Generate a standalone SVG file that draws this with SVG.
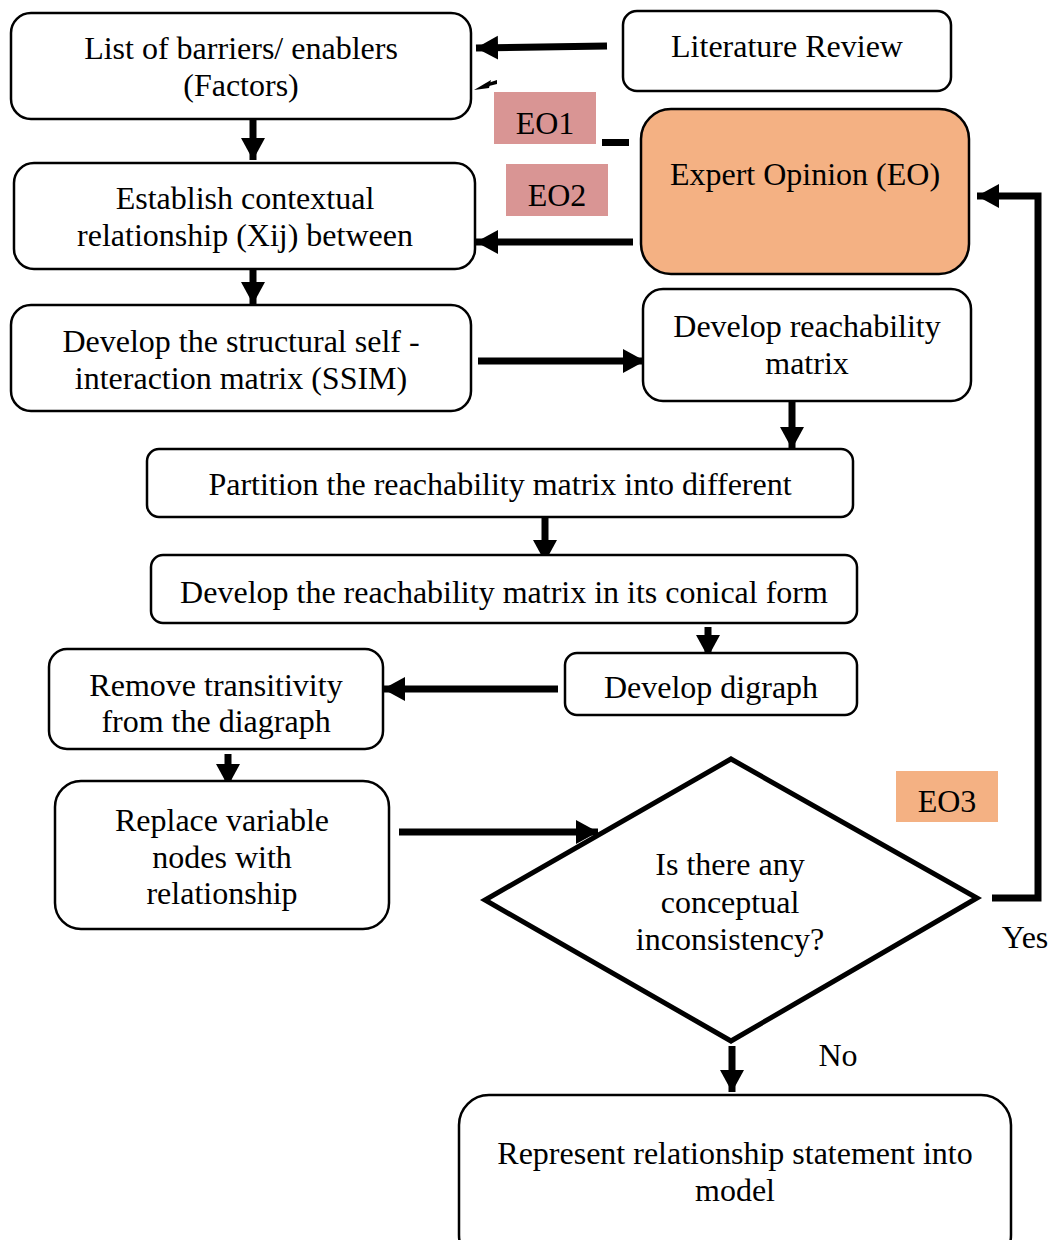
<svg xmlns="http://www.w3.org/2000/svg" width="1058" height="1240" viewBox="0 0 1058 1240">
<style>
.box{fill:#fff;stroke:#000;stroke-width:2.5}
.t{font-family:"Liberation Serif","Times New Roman",serif;font-size:32px;fill:#000;text-anchor:middle}
.c{fill:none;stroke:#000;stroke-width:7}
.eo{fill:#d99594}
.or{fill:#f4b183}
</style>
<defs>
<marker id="ah" markerUnits="userSpaceOnUse" markerWidth="24" markerHeight="26" refX="22" refY="13" orient="auto">
<path d="M0,1 L22,13 L0,25 z" fill="#000"/>
</marker>
</defs>
<rect width="1058" height="1240" fill="#fff"/>
<g id="connectors">
<line class="c" x1="607" y1="46" x2="476" y2="48" marker-end="url(#ah)"/>
<path d="M474,90 L491,80 L489,88 z" fill="#000"/>
<path d="M488,83 L497,80 L497,84 L489,86 z" fill="#000"/>
<rect x="602" y="139" width="27" height="7" fill="#000"/>
<line class="c" x1="633" y1="242" x2="476" y2="242" marker-end="url(#ah)"/>
<line class="c" x1="253" y1="112" x2="253" y2="160" marker-end="url(#ah)"/>
<line class="c" x1="253" y1="269" x2="253" y2="304" marker-end="url(#ah)"/>
<line class="c" x1="478" y1="361" x2="645" y2="361" marker-end="url(#ah)"/>
<line class="c" x1="792" y1="401" x2="792" y2="449" marker-end="url(#ah)"/>
<line class="c" x1="545" y1="516" x2="545" y2="562" marker-end="url(#ah)"/>
<line class="c" x1="708" y1="627" x2="708" y2="657" marker-end="url(#ah)"/>
<line class="c" x1="558" y1="689" x2="383" y2="689" marker-end="url(#ah)"/>
<line class="c" x1="228" y1="754" x2="228" y2="786" marker-end="url(#ah)"/>
<line class="c" x1="399" y1="832" x2="598" y2="832" marker-end="url(#ah)"/>
<polyline class="c" points="992,898 1038,898 1038,196 977,196" marker-end="url(#ah)"/>
<line class="c" x1="732" y1="1046" x2="732" y2="1092" marker-end="url(#ah)"/>
</g>
<g id="n-factors"><rect class="box" x="11" y="13" width="460" height="106" rx="20"/>
<text class="t" x="241" y="59">List of barriers/ enablers</text><text class="t" x="241" y="96">(Factors)</text></g>
<g id="n-lit"><rect class="box" x="623" y="11" width="328" height="80" rx="14"/>
<text class="t" x="787" y="57">Literature Review</text></g>
<g id="n-eo1"><rect class="eo" x="494" y="92" width="102" height="52"/><text class="t" x="545" y="134">EO1</text></g>
<g id="n-eo2"><rect class="eo" x="506" y="164" width="102" height="52"/><text class="t" x="557" y="206">EO2</text></g>
<g id="n-expert"><rect class="or" x="641" y="109" width="328" height="165" rx="30" stroke="#000" stroke-width="2.5"/>
<text class="t" x="805" y="185">Expert Opinion (EO)</text></g>
<g id="n-context"><rect class="box" x="14" y="163" width="461" height="106" rx="20"/>
<text class="t" x="245" y="209">Establish contextual</text><text class="t" x="245" y="246">relationship (Xij) between</text></g>
<g id="n-ssim"><rect class="box" x="11" y="305" width="460" height="106" rx="20"/>
<text class="t" x="241" y="352">Develop the structural self -</text><text class="t" x="241" y="389">interaction matrix (SSIM)</text></g>
<g id="n-reach"><rect class="box" x="643" y="289" width="328" height="112" rx="20"/>
<text class="t" x="807" y="337">Develop reachability</text><text class="t" x="807" y="374">matrix</text></g>
<g id="n-partition"><rect class="box" x="147" y="449" width="706" height="68" rx="12"/>
<text class="t" x="500" y="495">Partition the reachability matrix into different</text></g>
<g id="n-conical"><rect class="box" x="151" y="555" width="706" height="68" rx="12"/>
<text class="t" x="504" y="603">Develop the reachability matrix in its conical form</text></g>
<g id="n-digraph"><rect class="box" x="565" y="653" width="292" height="62" rx="12"/>
<text class="t" x="711" y="698">Develop digraph</text></g>
<g id="n-transitivity"><rect class="box" x="49" y="649" width="334" height="100" rx="18"/>
<text class="t" x="216" y="696">Remove transitivity</text><text class="t" x="216" y="732">from the diagraph</text></g>
<g id="n-replace"><rect class="box" x="55" y="781" width="334" height="148" rx="26"/>
<text class="t" x="222" y="831">Replace variable</text><text class="t" x="222" y="868">nodes with</text><text class="t" x="222" y="904">relationship</text></g>
<g id="n-decision"><polygon points="731,759 977,898 731,1041 485,900" fill="#fff" stroke="#000" stroke-width="5"/>
<text class="t" x="730" y="875">Is there any</text><text class="t" x="730" y="913">conceptual</text><text class="t" x="730" y="950">inconsistency?</text></g>
<g id="n-eo3"><rect class="or" x="896" y="771" width="102" height="51"/><text class="t" x="947" y="812">EO3</text></g>
<text class="t" x="1025" y="948">Yes</text>
<text class="t" x="838" y="1066">No</text>
<g id="n-model"><rect class="box" x="459" y="1095" width="552" height="170" rx="30"/>
<text class="t" x="735" y="1164">Represent relationship statement into</text><text class="t" x="735" y="1201">model</text></g>
</svg>
